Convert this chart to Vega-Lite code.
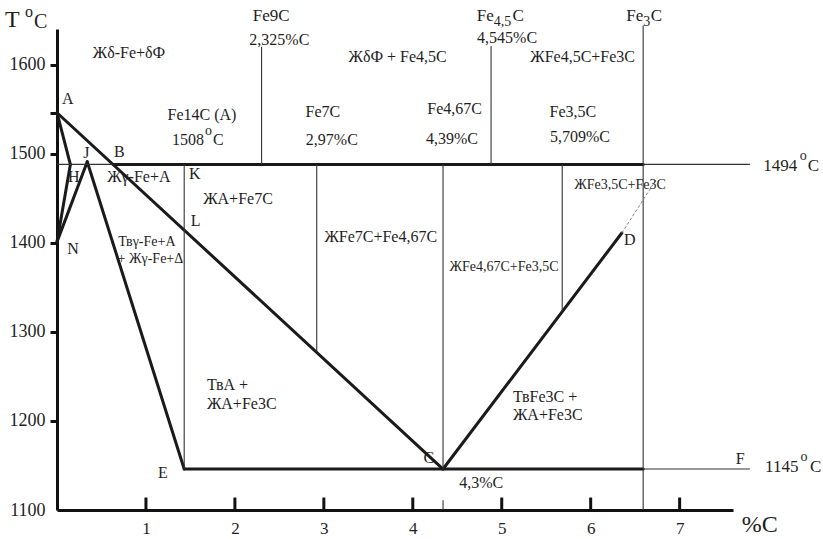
{
  "$schema": "https://vega.github.io/schema/vega-lite/v6.json",
  "width": 676,
  "height": 481,
  "autosize": {"type": "none"},
  "padding": {"left": 57, "top": 29, "right": 90, "bottom": 29},
  "background": "white",
  "config": {
    "view": {"stroke": null},
    "text": {"font": "'Liberation Serif', 'Times New Roman', 'DejaVu Serif', serif", "color": "#1e1e1e"}
  },
  "datasets": {
    "thick": [
      {"seg": "A-H", "x1": 0, "t1": 1546, "x2": 0.15, "t2": 1488},
      {"seg": "H-N", "x1": 0.15, "t1": 1488, "x2": 0, "t2": 1401},
      {"seg": "N-J", "x1": 0, "t1": 1401, "x2": 0.34, "t2": 1491},
      {"seg": "J-E", "x1": 0.34, "t1": 1491, "x2": 1.43, "t2": 1146},
      {"seg": "A-C", "x1": 0, "t1": 1546, "x2": 4.34, "t2": 1146},
      {"seg": "C-D", "x1": 4.34, "t1": 1146, "x2": 6.35, "t2": 1411},
      {"seg": "1494 line", "x1": 0.63, "t1": 1488, "x2": 6.59, "t2": 1488},
      {"seg": "1145 line", "x1": 1.43, "t1": 1146, "x2": 6.59, "t2": 1146}
    ],
    "thin": [
      {"seg": "1494 left", "x1": 0, "t1": 1488, "x2": 0.63, "t2": 1488},
      {"seg": "1494 right", "x1": 6.59, "t1": 1488, "x2": 7.79, "t2": 1488},
      {"seg": "1145 right", "x1": 6.59, "t1": 1146, "x2": 7.79, "t2": 1146},
      {"seg": "Fe9C", "x1": 2.30, "t1": 1620, "x2": 2.30, "t2": 1488},
      {"seg": "Fe4,5C", "x1": 4.88, "t1": 1621, "x2": 4.88, "t2": 1488},
      {"seg": "Fe3C", "x1": 6.59, "t1": 1644, "x2": 6.59, "t2": 1100},
      {"seg": "K-E", "x1": 1.43, "t1": 1488, "x2": 1.43, "t2": 1146},
      {"seg": "Fe7C", "x1": 2.92, "t1": 1488, "x2": 2.92, "t2": 1278},
      {"seg": "Fe4,67C", "x1": 4.34, "t1": 1488, "x2": 4.34, "t2": 1146},
      {"seg": "Fe3,5C", "x1": 5.68, "t1": 1488, "x2": 5.68, "t2": 1323},
      {"seg": "4,3 tick", "x1": 4.34, "t1": 1100, "x2": 4.34, "t2": 1111}
    ],
    "dashed": [
      {"seg": "D ext", "x1": 6.35, "t1": 1411, "x2": 6.75, "t2": 1473}
    ],
    "xticks": [
      {"x": 1}, {"x": 2}, {"x": 3}, {"x": 4}, {"x": 5}, {"x": 6}, {"x": 7}
    ],
    "lab16": [
      {"label": "Жδ-Fe+δФ", "x": 0.81, "t": 1613},
      {"label": "A", "x": 0.12, "t": 1561},
      {"label": "Fe14C (A)", "x": 1.63, "t": 1543},
      {"label": "B", "x": 0.70, "t": 1502},
      {"label": "J", "x": 0.33, "t": 1501},
      {"label": "H", "x": 0.19, "t": 1474},
      {"label": "Жγ-Fe+A", "x": 0.92, "t": 1474},
      {"label": "K", "x": 1.55, "t": 1477},
      {"label": "ЖА+Fe7C", "x": 2.035, "t": 1449},
      {"label": "L", "x": 1.56, "t": 1424},
      {"label": "N", "x": 0.18, "t": 1393},
      {"label": "2,325%C", "x": 2.50, "t": 1628},
      {"label": "ЖδФ + Fe4,5C", "x": 3.83, "t": 1609},
      {"label": "Fe7C", "x": 2.99, "t": 1547},
      {"label": "2,97%C", "x": 3.09, "t": 1515},
      {"label": "Fe4,67C", "x": 4.47, "t": 1550},
      {"label": "4,39%C", "x": 4.44, "t": 1517},
      {"label": "4,545%C", "x": 5.06, "t": 1630},
      {"label": "ЖFe4,5C+Fe3C", "x": 5.91, "t": 1609},
      {"label": "Fe3,5C", "x": 5.80, "t": 1547},
      {"label": "5,709%C", "x": 5.88, "t": 1519},
      {"label": "D", "x": 6.44, "t": 1403},
      {"label": "ЖFe7C+Fe4,67C", "x": 3.64, "t": 1406},
      {"label": "E", "x": 1.19, "t": 1141},
      {"label": "C", "x": 4.18, "t": 1158},
      {"label": "4,3%C", "x": 4.77, "t": 1130},
      {"label": "F", "x": 7.68, "t": 1157}
    ],
    "lab14": [
      {"label": "Твγ-Fe+A", "x": 1.01, "t": 1401},
      {"label": "+ Жγ-Fe+Δ", "x": 1.05, "t": 1382},
      {"label": "ЖFe3,5C+Fe3C", "x": 6.33, "t": 1465},
      {"label": "ЖFe4,67C+Fe3,5C", "x": 5.025, "t": 1373}
    ],
    "left16": [
      {"label": "ТвА +", "x": 1.686, "t": 1240},
      {"label": "ЖА+Fe3C", "x": 1.686, "t": 1219},
      {"label": "ТвFe3C +", "x": 5.127, "t": 1227},
      {"label": "ЖА+Fe3C", "x": 5.127, "t": 1207},
      {"label": "1508", "x": 1.293, "t": 1515},
      {"label": "C", "x": 1.754, "t": 1515}
    ],
    "left17": [
      {"label": "Fe9C", "x": 2.20, "t": 1655},
      {"label": "Fe", "x": 4.72, "t": 1655},
      {"label": "C", "x": 5.12, "t": 1655},
      {"label": "Fe", "x": 6.40, "t": 1655},
      {"label": "C", "x": 6.675, "t": 1655},
      {"label": "1494", "x": 7.94, "t": 1486},
      {"label": "C", "x": 8.44, "t": 1486},
      {"label": "1145", "x": 7.96, "t": 1148},
      {"label": "C", "x": 8.465, "t": 1148}
    ],
    "sub14": [
      {"label": "4,5", "x": 4.91, "t": 1648},
      {"label": "3", "x": 6.59, "t": 1648}
    ],
    "sup14": [
      {"label": "o", "x": 1.664, "t": 1525},
      {"label": "o", "x": 8.35, "t": 1497},
      {"label": "o", "x": 8.36, "t": 1159}
    ],
    "tlabel": [{"label": "T", "x": -0.585, "t": 1650}],
    "tdeg": [{"label": "o", "x": -0.36, "t": 1659}],
    "tc": [{"label": "C", "x": -0.259, "t": 1648}],
    "pc": [{"label": "%C", "x": 7.90, "t": 1083}]
  },
  "layer": [
    {
      "data": {"name": "thick"},
      "mark": {"type": "rule", "strokeWidth": 3, "color": "#1a1a1a", "strokeCap": "round"},
      "encoding": {
        "x": {
          "field": "x1", "type": "quantitative",
          "scale": {"domain": [0, 7.6], "nice": false, "zero": false},
          "axis": {
            "title": null, "grid": false, "values": [1, 2, 3, 4, 5, 6, 7],
            "format": "d",
            "ticks": false, "domainWidth": 3, "domainColor": "#111",
            "labelFont": "'Liberation Serif', 'Times New Roman', 'DejaVu Serif', serif",
            "labelFontSize": 17, "labelColor": "#1e1e1e",
            "labelPadding": 10, "labelFlush": false
          }
        },
        "y": {
          "field": "t1", "type": "quantitative",
          "scale": {"domain": [1100, 1640], "nice": false, "zero": false},
          "axis": {
            "title": null, "grid": false,
            "values": [1100, 1200, 1300, 1400, 1500, 1546, 1600],
            "labelExpr": "datum.value == 1546 ? '' : datum.label",
            "format": "d",
            "tickSize": 7, "tickWidth": 3, "tickColor": "#111",
            "tickOpacity": {"condition": {"test": "datum.value == 1100", "value": 0}, "value": 1},
            "domainWidth": 3, "domainColor": "#111",
            "labelFont": "'Liberation Serif', 'Times New Roman', 'DejaVu Serif', serif",
            "labelFontSize": 18, "labelColor": "#1e1e1e",
            "labelPadding": 5, "labelFlush": false
          }
        },
        "x2": {"field": "x2"},
        "y2": {"field": "t2"}
      }
    },
    {
      "data": {"name": "thin"},
      "mark": {"type": "rule", "strokeWidth": 1.1, "color": "#333"},
      "encoding": {
        "x": {"field": "x1", "type": "quantitative"},
        "y": {"field": "t1", "type": "quantitative"},
        "x2": {"field": "x2"},
        "y2": {"field": "t2"}
      }
    },
    {
      "data": {"name": "dashed"},
      "mark": {"type": "rule", "strokeWidth": 1, "color": "#888", "strokeDash": [3, 2]},
      "encoding": {
        "x": {"field": "x1", "type": "quantitative"},
        "y": {"field": "t1", "type": "quantitative"},
        "x2": {"field": "x2"},
        "y2": {"field": "t2"}
      }
    },
    {
      "data": {"name": "xticks"},
      "mark": {"type": "rule", "strokeWidth": 3, "color": "#111"},
      "encoding": {
        "x": {"field": "x", "type": "quantitative"},
        "y": {"datum": 1100, "type": "quantitative"},
        "y2": {"datum": 1114}
      }
    },
    {
      "data": {"name": "lab16"},
      "mark": {"type": "text", "fontSize": 16, "align": "center", "baseline": "middle"},
      "encoding": {
        "x": {"field": "x", "type": "quantitative"},
        "y": {"field": "t", "type": "quantitative"},
        "text": {"field": "label"}
      }
    },
    {
      "data": {"name": "lab14"},
      "mark": {"type": "text", "fontSize": 14, "align": "center", "baseline": "middle"},
      "encoding": {
        "x": {"field": "x", "type": "quantitative"},
        "y": {"field": "t", "type": "quantitative"},
        "text": {"field": "label"}
      }
    },
    {
      "data": {"name": "left16"},
      "mark": {"type": "text", "fontSize": 16, "align": "left", "baseline": "middle"},
      "encoding": {
        "x": {"field": "x", "type": "quantitative"},
        "y": {"field": "t", "type": "quantitative"},
        "text": {"field": "label"}
      }
    },
    {
      "data": {"name": "left17"},
      "mark": {"type": "text", "fontSize": 17, "align": "left", "baseline": "middle"},
      "encoding": {
        "x": {"field": "x", "type": "quantitative"},
        "y": {"field": "t", "type": "quantitative"},
        "text": {"field": "label"}
      }
    },
    {
      "data": {"name": "sub14"},
      "mark": {"type": "text", "fontSize": 14, "align": "left", "baseline": "middle"},
      "encoding": {
        "x": {"field": "x", "type": "quantitative"},
        "y": {"field": "t", "type": "quantitative"},
        "text": {"field": "label"}
      }
    },
    {
      "data": {"name": "sup14"},
      "mark": {"type": "text", "fontSize": 14, "align": "left", "baseline": "middle"},
      "encoding": {
        "x": {"field": "x", "type": "quantitative"},
        "y": {"field": "t", "type": "quantitative"},
        "text": {"field": "label"}
      }
    },
    {
      "data": {"name": "tlabel"},
      "mark": {"type": "text", "fontSize": 24, "align": "left", "baseline": "middle"},
      "encoding": {
        "x": {"field": "x", "type": "quantitative"},
        "y": {"field": "t", "type": "quantitative"},
        "text": {"field": "label"}
      }
    },
    {
      "data": {"name": "tdeg"},
      "mark": {"type": "text", "fontSize": 16, "align": "left", "baseline": "middle"},
      "encoding": {
        "x": {"field": "x", "type": "quantitative"},
        "y": {"field": "t", "type": "quantitative"},
        "text": {"field": "label"}
      }
    },
    {
      "data": {"name": "tc"},
      "mark": {"type": "text", "fontSize": 20, "align": "left", "baseline": "middle"},
      "encoding": {
        "x": {"field": "x", "type": "quantitative"},
        "y": {"field": "t", "type": "quantitative"},
        "text": {"field": "label"}
      }
    },
    {
      "data": {"name": "pc"},
      "mark": {"type": "text", "fontSize": 24, "align": "center", "baseline": "middle"},
      "encoding": {
        "x": {"field": "x", "type": "quantitative"},
        "y": {"field": "t", "type": "quantitative"},
        "text": {"field": "label"}
      }
    }
  ]
}
